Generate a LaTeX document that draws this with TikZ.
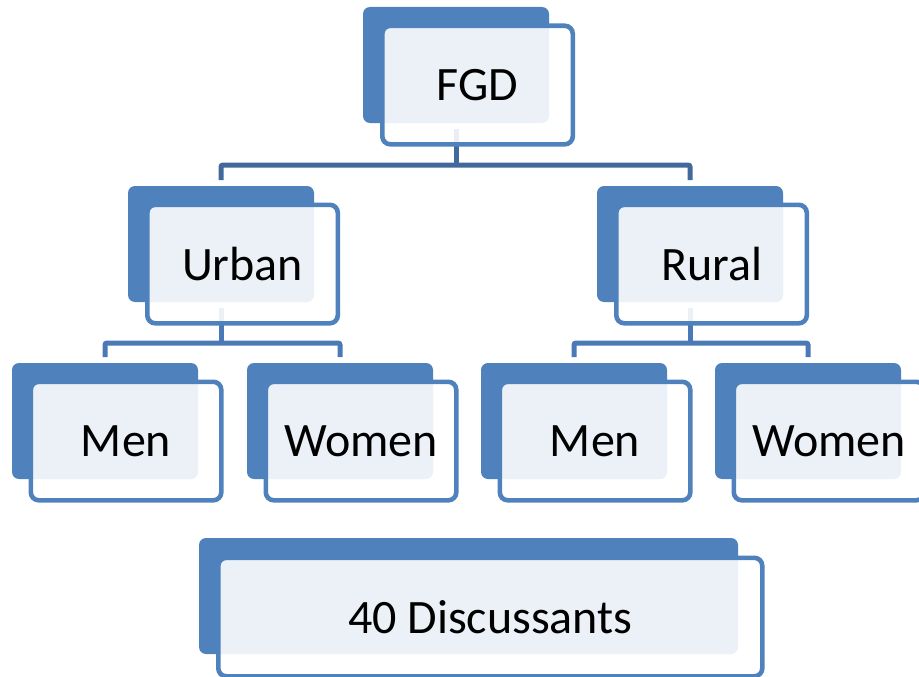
\documentclass[tikz,border=0pt]{standalone}
\usepackage{fontspec}
\setmainfont{Carlito}
\definecolor{boxblue}{HTML}{4F81BD}
\definecolor{topline}{HTML}{41699C}
\definecolor{lowline}{HTML}{4A79B5}
\pgfdeclarelayer{bg}
\pgfsetlayers{bg,main}
\tikzset{
  backbox/.style={fill=boxblue, rounded corners=7pt, minimum width=186pt, minimum height=116pt,
    inner sep=0pt, outer sep=0pt, anchor=north west},
  frontbox/.style={draw=boxblue, line width=4.6pt, fill=white, fill opacity=0.89, text opacity=1,
    rounded corners=8pt, minimum width=190.5pt, minimum height=118.5pt, inner sep=0pt,
    anchor=north west, font=\fontsize{48}{58}\selectfont},
  topconn/.style={draw=topline, line width=5pt, rounded corners=2pt},
  lowconn/.style={draw=lowline, line width=5pt, rounded corners=2pt},
}
\begin{document}
\begin{tikzpicture}[x=1pt,y=1pt]
\useasboundingbox (0,0) rectangle (919,-677);
\clip (0,0) rectangle (919,-677);
% back boxes
\node[backbox] (fgdB) at (363,-7) {};
\node[backbox] (urbanB) at (128,-186) {};
\node[backbox] (ruralB) at (597,-186) {};
\node[backbox] (menlB) at (12,-363) {};
\node[backbox] (womenlB) at (247,-363) {};
\node[backbox] (menrB) at (481,-363) {};
\node[backbox] (womenrB) at (715,-363) {};
\node[backbox, minimum width=539pt] (discB) at (199,-538) {};
% front boxes
\node[frontbox] (fgd) at ([shift={(17pt,-16.5pt)}]fgdB.north west) {FGD};
\node[frontbox] (urban) at ([shift={(17pt,-16.5pt)}]urbanB.north west) {Urban};
\node[frontbox] (rural) at ([shift={(17pt,-16.5pt)}]ruralB.north west) {Rural};
\node[frontbox] (menl) at ([shift={(16.5pt,-16.5pt)}]menlB.north west) {Men};
\node[frontbox] (womenl) at ([shift={(16.5pt,-16.5pt)}]womenlB.north west) {Women};
\node[frontbox] (menr) at ([shift={(16.5pt,-16.5pt)}]menrB.north west) {Men};
\node[frontbox] (womenr) at ([shift={(16.5pt,-16.5pt)}]womenrB.north west) {Women};
\node[frontbox, minimum width=544pt] (disc) at ([shift={(17pt,-17.5pt)}]discB.north west) {40 Discussants};
% connectors
\begin{pgfonlayer}{bg}
\draw[topconn] ([yshift=-6pt]fgdB.south) -- ++(0,-36) coordinate (j1);
\draw[topconn] ([yshift=6pt]urbanB.north) |- (j1) -| ([yshift=6pt]ruralB.north);
\draw[lowconn] ([yshift=-6pt]urbanB.south) -- ++(0,-35) coordinate (j2);
\draw[lowconn] ([yshift=6pt]menlB.north) |- (j2) -| ([yshift=6pt]womenlB.north);
\draw[lowconn] ([yshift=-6pt]ruralB.south) -- ++(0,-35) coordinate (j3);
\draw[lowconn] ([yshift=6pt]menrB.north) |- (j3) -| ([yshift=6pt]womenrB.north);
\end{pgfonlayer}
\end{tikzpicture}
\end{document}
